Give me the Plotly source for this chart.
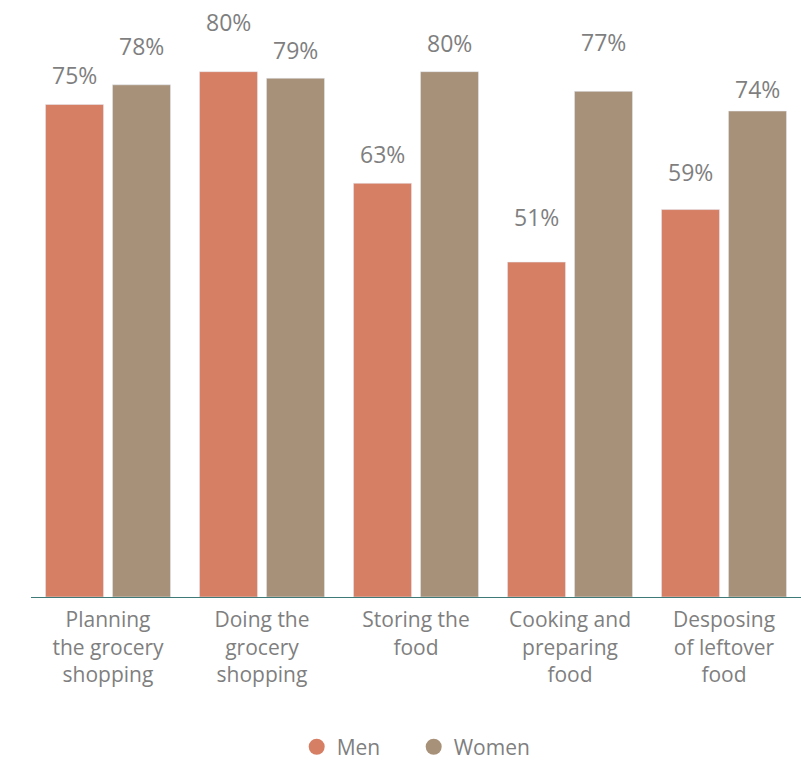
import plotly.graph_objects as go

# Share of respondents involved in each food-related task
categories = [
    "Planning<br>the grocery<br>shopping",
    "Doing the<br>grocery<br>shopping",
    "Storing the<br>food",
    "Cooking and<br>preparing<br>food",
    "Desposing<br>of leftover<br>food",
]
men = [75, 80, 63, 51, 59]
women = [78, 79, 80, 77, 74]

# vertical offsets (px) of the value labels above each bar
men_label_shift = [30, 50, 29, 45, 38]
women_label_shift = [39, 28, 29, 49, 22]

MEN_COLOR = "#D67F65"
WOMEN_COLOR = "#A89179"
TEXT_COLOR = "#7F7F7F"
FONT = "'Open Sans', Lato, sans-serif"

fig = go.Figure()
fig.add_trace(go.Bar(x=categories, y=men, name="Men", marker_color=MEN_COLOR,
                     showlegend=False, hoverinfo="skip"))
fig.add_trace(go.Bar(x=categories, y=women, name="Women", marker_color=WOMEN_COLOR,
                     showlegend=False, hoverinfo="skip"))

# circular legend markers
for name, color in [("Men", MEN_COLOR), ("Women", WOMEN_COLOR)]:
    fig.add_trace(go.Scatter(x=[None], y=[None], mode="markers", name=name,
                             marker=dict(symbol="circle", size=18, color=color)))

annotations = []
for cat, v, s in zip(categories, men, men_label_shift):
    annotations.append(dict(x=cat, y=v, xshift=-33.5, yshift=s, text=f"{v}%",
                            showarrow=False, yanchor="middle",
                            font=dict(size=23, color=TEXT_COLOR, family=FONT)))
for cat, v, s in zip(categories, women, women_label_shift):
    annotations.append(dict(x=cat, y=v, xshift=33.5, yshift=s, text=f"{v}%",
                            showarrow=False, yanchor="middle",
                            font=dict(size=23, color=TEXT_COLOR, family=FONT)))

fig.update_layout(
    width=801, height=760,
    margin=dict(l=31, r=0, t=6, b=163, autoexpand=False),
    paper_bgcolor="white", plot_bgcolor="white",
    barmode="group", bargap=0.13, bargroupgap=0.134,
    font=dict(family=FONT, color=TEXT_COLOR, size=21),
    xaxis=dict(showline=True, linecolor="#3E7A78", linewidth=1.3, automargin=False,
               ticks="", showgrid=False, ticklabelstandoff=4,
               tickfont=dict(size=21, color=TEXT_COLOR)),
    yaxis=dict(range=[0, 90], visible=False, showgrid=False),
    legend=dict(orientation="h", x=0.497, xanchor="center", y=-0.254, yanchor="middle",
                font=dict(size=21, color=TEXT_COLOR), itemwidth=30,
                entrywidth=72, entrywidthmode="pixels"),
    annotations=annotations,
)

fig.write_html("out.html")
